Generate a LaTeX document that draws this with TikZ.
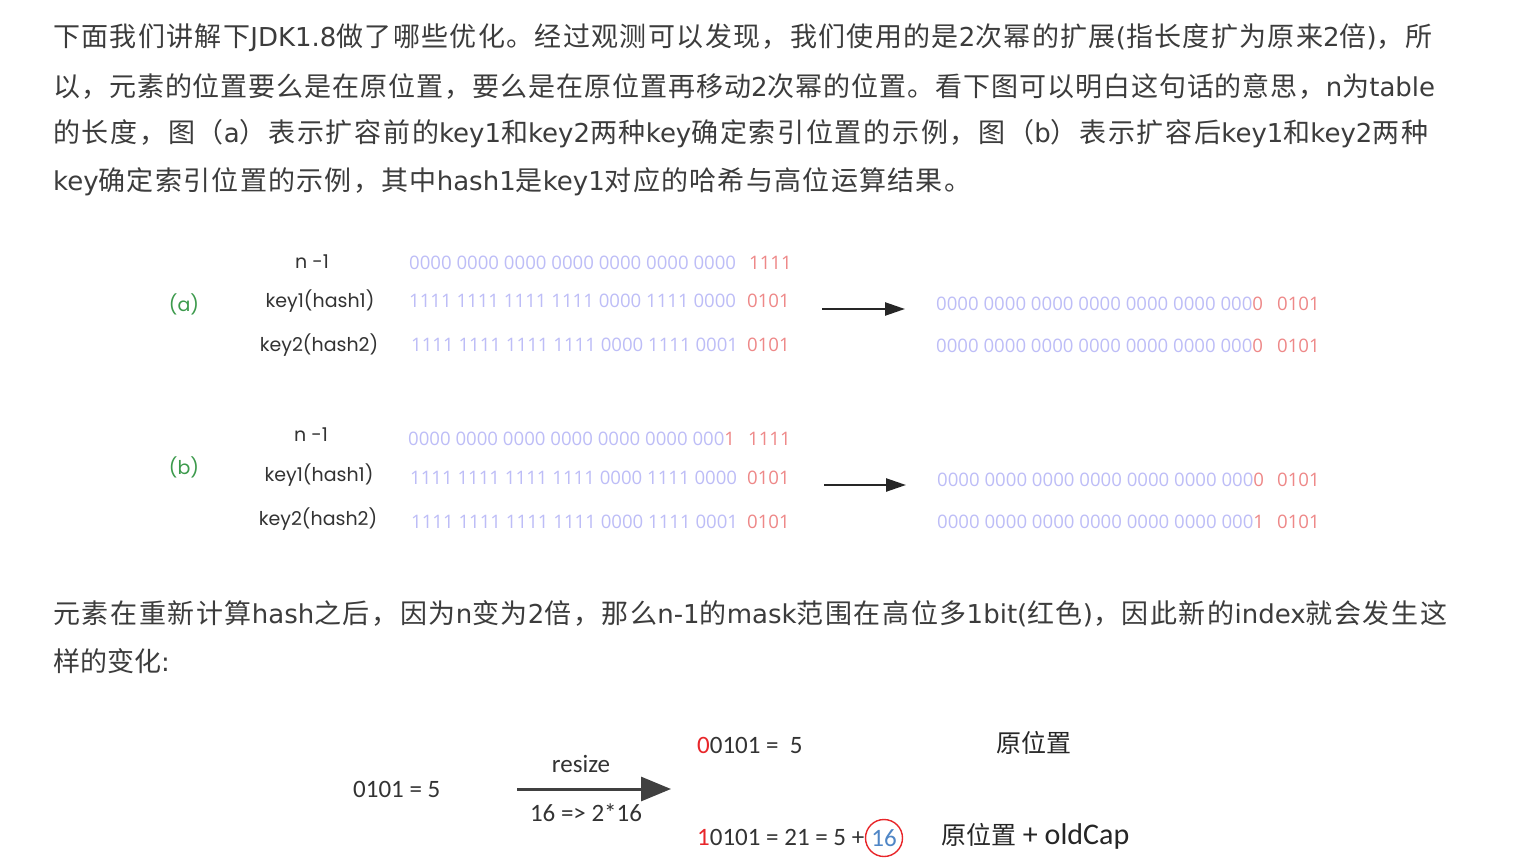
\documentclass[tikz,border=0pt]{standalone}
\usepackage{fontspec}
\newfontfamily\cjk{Noto Sans CJK SC}
\newfontfamily\latfont{DejaVu Sans}
\newfontfamily\gothic{Poppins}
\newfontfamily\digfont{Open Sans}
\newfontfamily\cali{Carlito}
\usetikzlibrary{arrows.meta,positioning}
% stretchable glue between Chinese characters
\newXeTeXintercharclass\hzclass
\newcount\hzc
\newcommand{\hzrange}[2]{\hzc=#1\relax
  \loop\XeTeXcharclass\hzc=\hzclass\relax\ifnum\hzc<#2\relax\advance\hzc by 1\relax\repeat}
\hzrange{"3000}{"303F}
\hzrange{"4E00}{"9FFF}
\hzrange{"FF00}{"FFEF}
\XeTeXinterchartokenstate=1
\XeTeXinterchartoks\hzclass\hzclass={\hskip0pt plus 2pt\relax}
\XeTeXinterchartoks 0 \hzclass={\hskip0pt plus 2pt\relax}
\XeTeXinterchartoks\hzclass 0 ={\hskip0pt plus 2pt\relax}
\definecolor{txtgray}{HTML}{3C3C3C}
\definecolor{bitblue}{HTML}{BDBDF7}
\definecolor{bitred}{HTML}{EE8888}
\definecolor{lblgreen}{HTML}{3C9A4C}
\definecolor{hotred}{HTML}{E8262A}
\definecolor{capblue}{HTML}{4F86C6}
\tikzset{
  px/.style={x=1pt, y=-1pt},
  h para/.style={anchor=west, inner sep=0pt, font=\cjk\fontsize{27}{32}\selectfont, text=txtgray},
  h name/.style={inner sep=0pt, font=\gothic\fontsize{19}{22}\selectfont, text=black!80},
  h tag/.style={h name, text=lblgreen},
  h bits/.style={anchor=west, inner sep=0pt, font=\digfont\fontsize{18.6}{22}\selectfont, text=bitblue},
  h low/.style={h bits, text=bitred},
  h arr/.style={-{Triangle[length=20pt, width=13pt]}, line width=2.4pt, black!85},
  r txt/.style={anchor=west, inner sep=0pt, font=\cali\fontsize{25}{30}\selectfont, text=black!80},
  r cn/.style={anchor=west, inner sep=0pt, font=\cjk\fontsize{25}{30}\selectfont, text=black!85},
  r ring/.style={circle, draw=hotred, line width=1.4pt, minimum size=37pt, inner sep=0pt, font=\cali\fontsize{25}{30}\selectfont, text=capblue},
  r arr/.style={-{Triangle[length=30pt, width=24pt]}, line width=3pt, black!75},
}
\newcommand{\lat}[1]{{\latfont\fontsize{26}{32}\selectfont #1}}
\newcommand{\fit}[2]{\hbox to #1{#2}}
\newcommand{\hi}[1]{\textcolor{bitred}{#1}}
\newcommand{\hot}[1]{\textcolor{hotred}{#1}}

\begin{document}
\begin{tikzpicture}[px]
\fill[white] (0,0) rectangle (1522,866);
\useasboundingbox (0,0) rectangle (1522,866);
% text above
\node[h para] (p1) at (53,38) {\fit{1379pt}{下面我们讲解下\lat{JDK1.8}做了哪些优化。经过观测可以发现，我们使用的是\lat{2}次幂的扩展\lat{(}指长度扩为原来\lat{2}倍\lat{)}，所}};
\node[h para] (p2) at (53,86) {\fit{1382pt}{以，元素的位置要么是在原位置，要么是在原位置再移动\lat{2}次幂的位置。看下图可以明白这句话的意思，\lat{n}为\lat{table}}};
\node[h para] (p3) at (53,134) {\fit{1375pt}{的长度，图（\lat{a}）表示扩容前的\lat{key1}和\lat{key2}两种\lat{key}确定索引位置的示例，图（\lat{b}）表示扩容后\lat{key1}和\lat{key2}两种}};
\node[h para] (p4) at (53,182) {\fit{918pt}{\lat{key}确定索引位置的示例，其中\lat{hash1}是\lat{key1}对应的哈希与高位运算结果。}};
% (a) before resize
\node[h tag] (ta) at (184,304) {(a)};
\node[h name] (na) at (312,262) {n -1};
\node[h name] (k1a) at (320,301) {key1(hash1)};
\node[h name] (k2a) at (319,345) {key2(hash2)};
\node[h bits] (ma) at (409,263) {0000 0000 0000 0000 0000 0000 0000};
\node[h low] (mla) at (749,263) {1111};
\node[h bits] (ba) at (409,301) {1111 1111 1111 1111 0000 1111 0000};
\node[h low] (bla) at (747,301) {0101};
\node[h bits] (ca) at (411,345) {1111 1111 1111 1111 0000 1111 0001};
\node[h low] (cla) at (747,345) {0101};
\coordinate (aa0) at (822,309);
\coordinate (aa1) at (905,309);
\draw[h arr] (aa0) -- (aa1);
\node[h bits] (ra1) at (936,304) {0000 0000 0000 0000 0000 0000 000\hi{0}};
\node[h low] (rl1) at (1277,304) {0101};
\node[h bits] (ra2) at (936,346) {0000 0000 0000 0000 0000 0000 000\hi{0}};
\node[h low] (rl2) at (1277,346) {0101};
% (b) after resize
\node[h tag] (tb) at (184,467) {(b)};
\node[h name] (nb) at (311,435) {n -1};
\node[h name] (k1b) at (319,475) {key1(hash1)};
\node[h name] (k2b) at (318,519) {key2(hash2)};
\node[h bits] (mb) at (408,439) {0000 0000 0000 0000 0000 0000 000\hi{1}};
\node[h low] (mlb) at (748,439) {1111};
\node[h bits] (bb) at (410,478) {1111 1111 1111 1111 0000 1111 0000};
\node[h low] (blb) at (747,478) {0101};
\node[h bits] (cb) at (411,522) {1111 1111 1111 1111 0000 1111 0001};
\node[h low] (clb) at (747,522) {0101};
\coordinate (ab0) at (824,485);
\coordinate (ab1) at (906,485);
\draw[h arr] (ab0) -- (ab1);
\node[h bits] (rb1) at (937,480) {0000 0000 0000 0000 0000 0000 000\hi{0}};
\node[h low] (rm1) at (1277,480) {0101};
\node[h bits] (rb2) at (937,522) {0000 0000 0000 0000 0000 0000 000\hi{1}};
\node[h low] (rm2) at (1277,522) {0101};
% text between
\node[h para] (p5) at (53,614) {\fit{1394pt}{元素在重新计算\lat{hash}之后，因为\lat{n}变为\lat{2}倍，那么\lat{n-1}的\lat{mask}范围在高位多\lat{1bit(}红色\lat{)}，因此新的\lat{index}就会发生这}};
\node[h para] (p6) at (53,661) {样的变化\lat{:}};
% index before and after
\node[r txt] (old) at (353,789) {0101 = 5};
\coordinate (rs0) at (517,789);
\coordinate (rs1) at (671,789);
\draw[r arr] (rs0) -- (rs1);
\node[r txt, anchor=center] (rsz) at (581,764) {resize};
\node[r txt, anchor=center] (dbl) at (586,813) {16 => 2*16};
\node[r txt] (lo) at (697,745) {\hot{0}0101 =\ \ 5};
\node[r cn] (lon) at (996,743) {原位置};
\node[r txt] (hi) at (697,837) {\hot{1}0101 = 21 = 5 +};
\node[r ring] (cap) at (884,838) {16};
\node[r cn] (hin) at (941,836) {原位置\cali\fontsize{30}{30}\selectfont\ + oldCap};
\end{tikzpicture}
\end{document}
